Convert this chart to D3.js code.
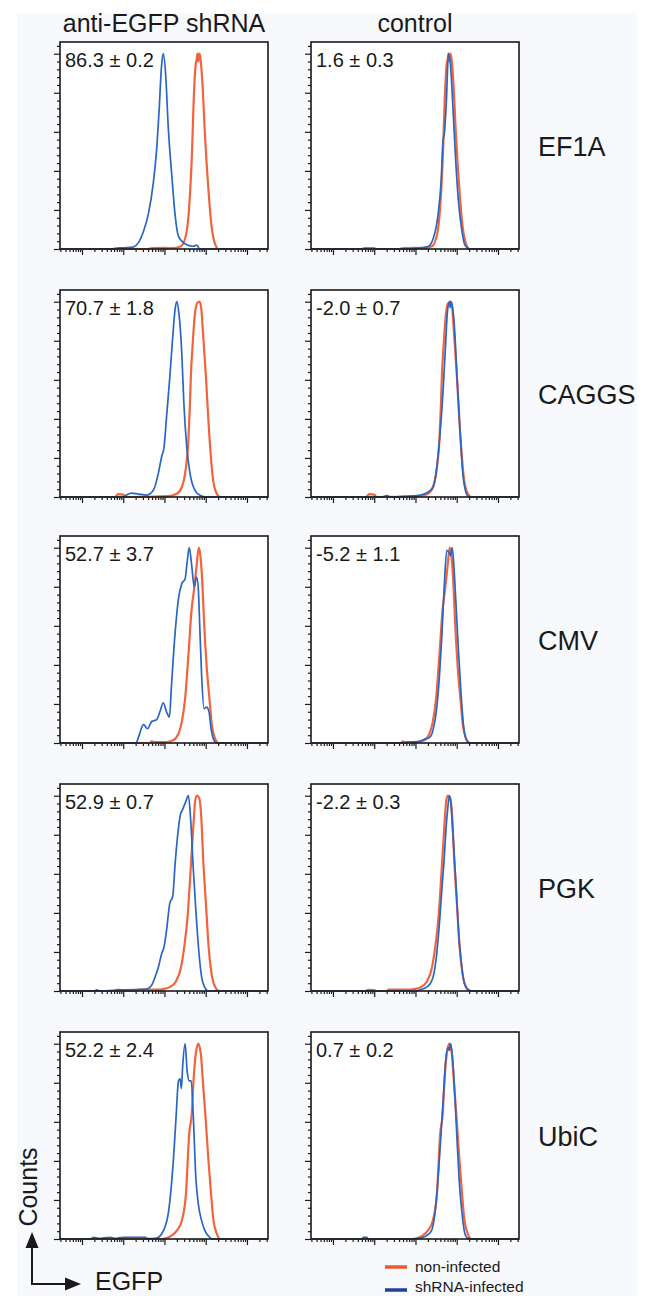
<!DOCTYPE html>
<html lang="en">
<head>
<meta charset="UTF-8">
<script src="https://cdn.jsdelivr.net/npm/d3@7"></script>
<title>EGFP knockdown by promoter</title>
<style>
  body { margin: 0; background: #fff; }
  svg text { font-family: "Liberation Sans", Arial, sans-serif; fill: #1a1a1a; }
</style>
</head>
<body>
<script>
// row / column labels
const promoters = ["EF1A", "CAGGS", "CMV", "PGK", "UbiC"];
const columns = ["anti-EGFP shRNA", "control"];
const knockdownLabels = ["86.3 \u00b1 0.2", "70.7 \u00b1 1.8", "52.7 \u00b1 3.7", "52.9 \u00b1 0.7", "52.2 \u00b1 2.4"];
const controlLabels = ["1.6 \u00b1 0.3", "-2.0 \u00b1 0.7", "-5.2 \u00b1 1.1", "-2.2 \u00b1 0.3", "0.7 \u00b1 0.2"];
const legendLabels = ["non-infected", "shRNA-infected"];

// histograms, points are [log10 EGFP, % of max]
const ef1aNon = [[0.48,0],[2.6,0],[2.7,0.4],[3.0,0.6],[3.2,0.4],[3.40,1.4],[3.53,8],[3.61,25],[3.67,51],[3.71,77],[3.76,95],[3.78,97],[3.80,100],[3.82,96],[3.84,100],[3.87,98],[3.92,85],[3.98,59],[4.06,32],[4.14,12],[4.22,3],[4.31,0],[5.5,0]];
const ef1aSh = [[0.48,0],[1.7,0],[1.9,0.6],[2.1,0.7],[2.24,1],[2.36,3],[2.49,9],[2.61,18],[2.73,34],[2.81,51],[2.87,71],[2.93,94],[2.97,100],[3.03,89],[3.09,63],[3.18,37],[3.26,17],[3.34,6.5],[3.54,2.2],[3.70,1.4],[3.78,2],[3.86,0],[5.5,0]];
const ef1aCtrl = [[0.48,0],[1.7,0],[1.75,0.5],[2.0,0.5],[2.05,0],[2.8,0],[3.0,0.4],[3.30,1.2],[3.44,6],[3.55,18],[3.62,34],[3.67,56],[3.70,59],[3.75,76],[3.80,100],[3.85,94],[3.90,76],[3.96,51],[4.04,25],[4.12,10],[4.20,2],[4.32,0],[5.5,0]];

const caggsNon = [[0.48,0],[1.8,0],[1.88,1.5],[2.0,1.2],[2.06,0],[3.1,0.5],[3.30,1.7],[3.42,5],[3.52,15],[3.58,29],[3.62,49],[3.64,62],[3.68,77],[3.74,94],[3.80,99.5],[3.85,100],[3.89,97],[3.94,82],[4.01,60],[4.06,41],[4.12,22],[4.18,8.5],[4.27,1.7],[4.35,0],[5.5,0]];
const caggsSh = [[0.48,0],[2.0,0],[2.08,1],[2.20,2],[2.37,1.5],[2.57,1],[2.73,3.4],[2.85,12],[2.93,20.5],[2.99,25.6],[3.05,41],[3.13,61.5],[3.20,82],[3.26,96.6],[3.30,100],[3.35,94],[3.42,73.5],[3.47,48],[3.54,25.6],[3.62,12],[3.74,3.4],[3.86,0.9],[4.02,0],[5.5,0]];
const caggsCtrl = [[0.48,0],[2.2,0],[2.3,0.7],[2.4,0],[2.87,0.5],[3.03,0.7],[3.19,1.4],[3.31,2.6],[3.43,5],[3.51,14],[3.59,31],[3.66,51],[3.72,74],[3.78,96],[3.82,99.7],[3.84,97],[3.86,100],[3.90,97],[3.96,82],[4.01,60],[4.08,34],[4.14,14],[4.21,3.4],[4.28,0.3],[4.40,0],[5.5,0]];

const cmvNon = [[0.48,0],[2.65,0],[2.69,0.8],[2.77,0.5],[3.05,0.5],[3.21,1.4],[3.34,4.8],[3.42,10.8],[3.50,22.7],[3.58,44.9],[3.66,68.8],[3.72,79],[3.78,91],[3.83,100],[3.88,94],[3.92,81],[3.96,62],[4.02,40],[4.09,22.7],[4.15,9],[4.23,2.2],[4.31,0],[5.5,0]];
const cmvSh = [[0.48,0],[2.31,0],[2.37,3],[2.49,9.4],[2.59,7.3],[2.69,11],[2.81,12],[2.89,16],[2.97,20.6],[3.05,16],[3.12,13.3],[3.17,29.5],[3.26,57],[3.34,74],[3.42,81.6],[3.50,84],[3.55,92.7],[3.60,100],[3.66,91],[3.72,80],[3.78,85],[3.82,79],[3.86,57],[3.90,35],[3.96,17.6],[4.02,18.4],[4.08,16],[4.13,7.3],[4.20,1.4],[4.27,0],[5.5,0]];
const cmvCtrl = [[0.48,0],[2.75,0],[2.79,0.3],[3.11,1],[3.23,2],[3.35,3],[3.43,7],[3.51,17],[3.58,34],[3.64,55],[3.69,77],[3.76,98.6],[3.81,97.8],[3.85,96],[3.89,100],[3.93,91],[3.98,72],[4.04,48],[4.10,27],[4.16,10],[4.23,1.7],[4.32,0],[5.5,0]];

const pgkNon = [[0.48,0],[1.8,0],[1.85,0.6],[2.0,0.5],[2.05,0],[2.30,0],[2.35,0.7],[2.65,0.7],[2.81,0.7],[2.97,1],[3.13,2],[3.27,4.6],[3.40,12],[3.48,22.7],[3.56,38],[3.63,60.5],[3.69,81],[3.75,98],[3.79,100],[3.84,99],[3.89,89.7],[3.94,67],[4.01,43],[4.07,22.7],[4.14,9],[4.23,2],[4.33,0],[5.5,0]];
const pgkSh = [[0.48,0],[1.3,0],[1.36,0.6],[1.42,0],[1.84,0.5],[2.3,0.7],[2.57,1],[2.69,3],[2.77,7],[2.85,12],[2.93,19],[2.99,22.7],[3.05,31],[3.13,45],[3.20,48.5],[3.26,65.6],[3.31,77.7],[3.38,89.7],[3.44,93],[3.51,96.6],[3.58,100],[3.64,86],[3.70,62],[3.76,41.6],[3.83,21],[3.90,7.2],[3.98,1.7],[4.06,0],[5.5,0]];
const pgkCtrl = [[0.48,0],[3.0,0],[3.09,0.5],[3.29,2.2],[3.41,6],[3.49,14.5],[3.57,31.6],[3.64,52],[3.70,69],[3.74,83],[3.78,93],[3.82,100],[3.86,95.7],[3.91,79.5],[3.98,55.6],[4.04,31.6],[4.11,14.5],[4.18,4.3],[4.26,0.9],[4.38,0],[5.5,0]];

const ubicNon = [[0.48,0],[2.9,0],[3.05,0.5],[3.17,1.7],[3.30,4.3],[3.42,9.4],[3.52,23],[3.60,54],[3.66,64],[3.70,79.5],[3.76,95],[3.82,100],[3.88,95],[3.94,78],[4.00,61],[4.06,42],[4.13,23],[4.18,11],[4.27,2.6],[4.35,0],[5.5,0]];
const ubicSh = [[0.48,0],[1.2,0],[1.28,0.8],[1.4,0.3],[1.68,0.9],[1.8,0.3],[2.0,0.9],[2.25,0.8],[2.53,0.9],[2.6,0.2],[2.81,0.5],[2.93,2.6],[3.01,6],[3.09,12.8],[3.17,28],[3.23,45],[3.28,62],[3.34,81],[3.38,82],[3.41,77],[3.44,88],[3.50,100],[3.55,86],[3.60,81],[3.65,81],[3.70,62],[3.76,31.6],[3.82,18],[3.90,9.4],[3.98,4.3],[4.06,1.7],[4.18,0],[5.5,0]];
const ubicCtrl = [[0.48,0],[1.7,0],[1.74,0.8],[1.82,0.8],[1.86,0],[3.0,0],[3.11,0.5],[3.27,1.7],[3.39,4.3],[3.47,12.8],[3.55,31.6],[3.62,54],[3.68,74],[3.73,91],[3.79,98],[3.82,96.6],[3.85,100],[3.89,95],[3.94,79.5],[4.00,54],[4.06,30],[4.13,12.8],[4.20,2.6],[4.28,0.3],[4.40,0],[5.5,0]];

const nonInfected = [ef1aNon, caggsNon, cmvNon, pgkNon, ubicNon];
const shInfected = [ef1aSh, caggsSh, cmvSh, pgkSh, ubicSh];
const ctrlInfected = [ef1aCtrl, caggsCtrl, cmvCtrl, pgkCtrl, ubicCtrl];

// layout
var width = 647, height = 1296;
var panelW = 208, panelH = 207;
var colX = [60, 311];
var rowY = [42, 290, 536, 784, 1032];
var red = "#f2643e", blue = "#2a66c4";

var svg = d3.select("body").append("svg")
  .attr("width", width)
  .attr("height", height);

svg.append("rect")
  .attr("x", 17).attr("y", 13)
  .attr("width", 620).attr("height", height - 13)
  .attr("fill", "#f8f9fc");

var x = d3.scaleLog().domain([Math.pow(10, 0.467), Math.pow(10, 5.51)]).range([0, panelW]);
var y = d3.scaleLinear().domain([0, 106]).range([panelH, 0]);

var isMajor = function(t) { return Math.abs(Math.log10(t) - Math.round(Math.log10(t))) < 1e-9; };
var xMajor = x.ticks().filter(isMajor);
var xMinor = x.ticks().filter(function(t) { return !isMajor(t); });
var yMajor = d3.range(0, 101, 20);
var yMinor = d3.range(4, 106, 4).filter(function(t) { return t % 20 != 0; });

var line = d3.line()
  .x(function(d) { return x(Math.pow(10, d[0])); })
  .y(function(d) { return y(d[1]); })
  .curve(d3.curveMonotoneX);

// column headers
columns.forEach(function(c, i) {
  svg.append("text")
    .attr("x", colX[i] + panelW / 2)
    .attr("y", 32)
    .attr("text-anchor", "middle")
    .style("font-size", "25px")
    .text(c);
});

promoters.forEach(function(p, r) {
  [0, 1].forEach(function(c) {
    var g = svg.append("g")
      .attr("transform", "translate(" + colX[c] + "," + rowY[r] + ")");

    g.append("rect")
      .attr("width", panelW).attr("height", panelH)
      .attr("fill", "#fff");

    // ticks, minor + major, outside
    var axes = [
      d3.axisBottom(x).tickValues(xMinor).tickSize(3),
      d3.axisBottom(x).tickValues(xMajor).tickSize(6)
    ];
    axes.forEach(function(a) {
      g.append("g").attr("transform", "translate(0," + panelH + ")")
        .call(a.tickFormat(""))
        .call(function(s) { s.select(".domain").remove(); })
        .selectAll("line").attr("stroke", "#1a1a1a").attr("stroke-width", 1.2);
    });
    [d3.axisLeft(y).tickValues(yMinor).tickSize(3), d3.axisLeft(y).tickValues(yMajor).tickSize(6)].forEach(function(a) {
      g.append("g")
        .call(a.tickFormat(""))
        .call(function(s) { s.select(".domain").remove(); })
        .selectAll("line").attr("stroke", "#1a1a1a").attr("stroke-width", 1.2);
    });

    g.append("path")
      .datum(nonInfected[r])
      .attr("d", line)
      .attr("fill", "none")
      .attr("stroke", red)
      .attr("stroke-width", 2.2);

    g.append("path")
      .datum(c == 0 ? shInfected[r] : ctrlInfected[r])
      .attr("d", line)
      .attr("fill", "none")
      .attr("stroke", blue)
      .attr("stroke-width", 1.7);

    g.append("rect")
      .attr("width", panelW).attr("height", panelH)
      .attr("fill", "none")
      .attr("stroke", "#1a1a1a")
      .attr("stroke-width", 1.6);

    g.append("text")
      .attr("x", 5).attr("y", 25)
      .style("font-size", "20px")
      .text(c == 0 ? knockdownLabels[r] : controlLabels[r]);
  });

  svg.append("text")
    .attr("x", 538)
    .attr("y", rowY[r] + 114)
    .style("font-size", "27px")
    .text(p);
});

// Counts / EGFP arrows
svg.append("path")
  .attr("d", "M32,1247 V1284 H66")
  .attr("fill", "none")
  .attr("stroke", "#1a1a1a")
  .attr("stroke-width", 2);
svg.append("path").attr("d", "M32,1232 L38.5,1248 L25.5,1248 Z").attr("fill", "#1a1a1a");
svg.append("path").attr("d", "M81,1284 L65,1277.5 L65,1290.5 Z").attr("fill", "#1a1a1a");

svg.append("text")
  .attr("transform", "translate(37,1187) rotate(-90)")
  .attr("text-anchor", "middle")
  .style("font-size", "25px")
  .text("Counts");
svg.append("text")
  .attr("x", 95).attr("y", 1290)
  .style("font-size", "25px")
  .text("EGFP");

// legend
var legendColors = ["#ef5a35", "#223f9b"];
legendLabels.forEach(function(l, i) {
  svg.append("line")
    .attr("x1", 385).attr("x2", 407)
    .attr("y1", 1267 + i * 23).attr("y2", 1267 + i * 23)
    .attr("stroke", legendColors[i])
    .attr("stroke-width", 3.5);
  svg.append("text")
    .attr("x", 415).attr("y", 1272 + i * 20)
    .style("font-size", "15.5px")
    .text(l);
});
</script>
</body>
</html>
